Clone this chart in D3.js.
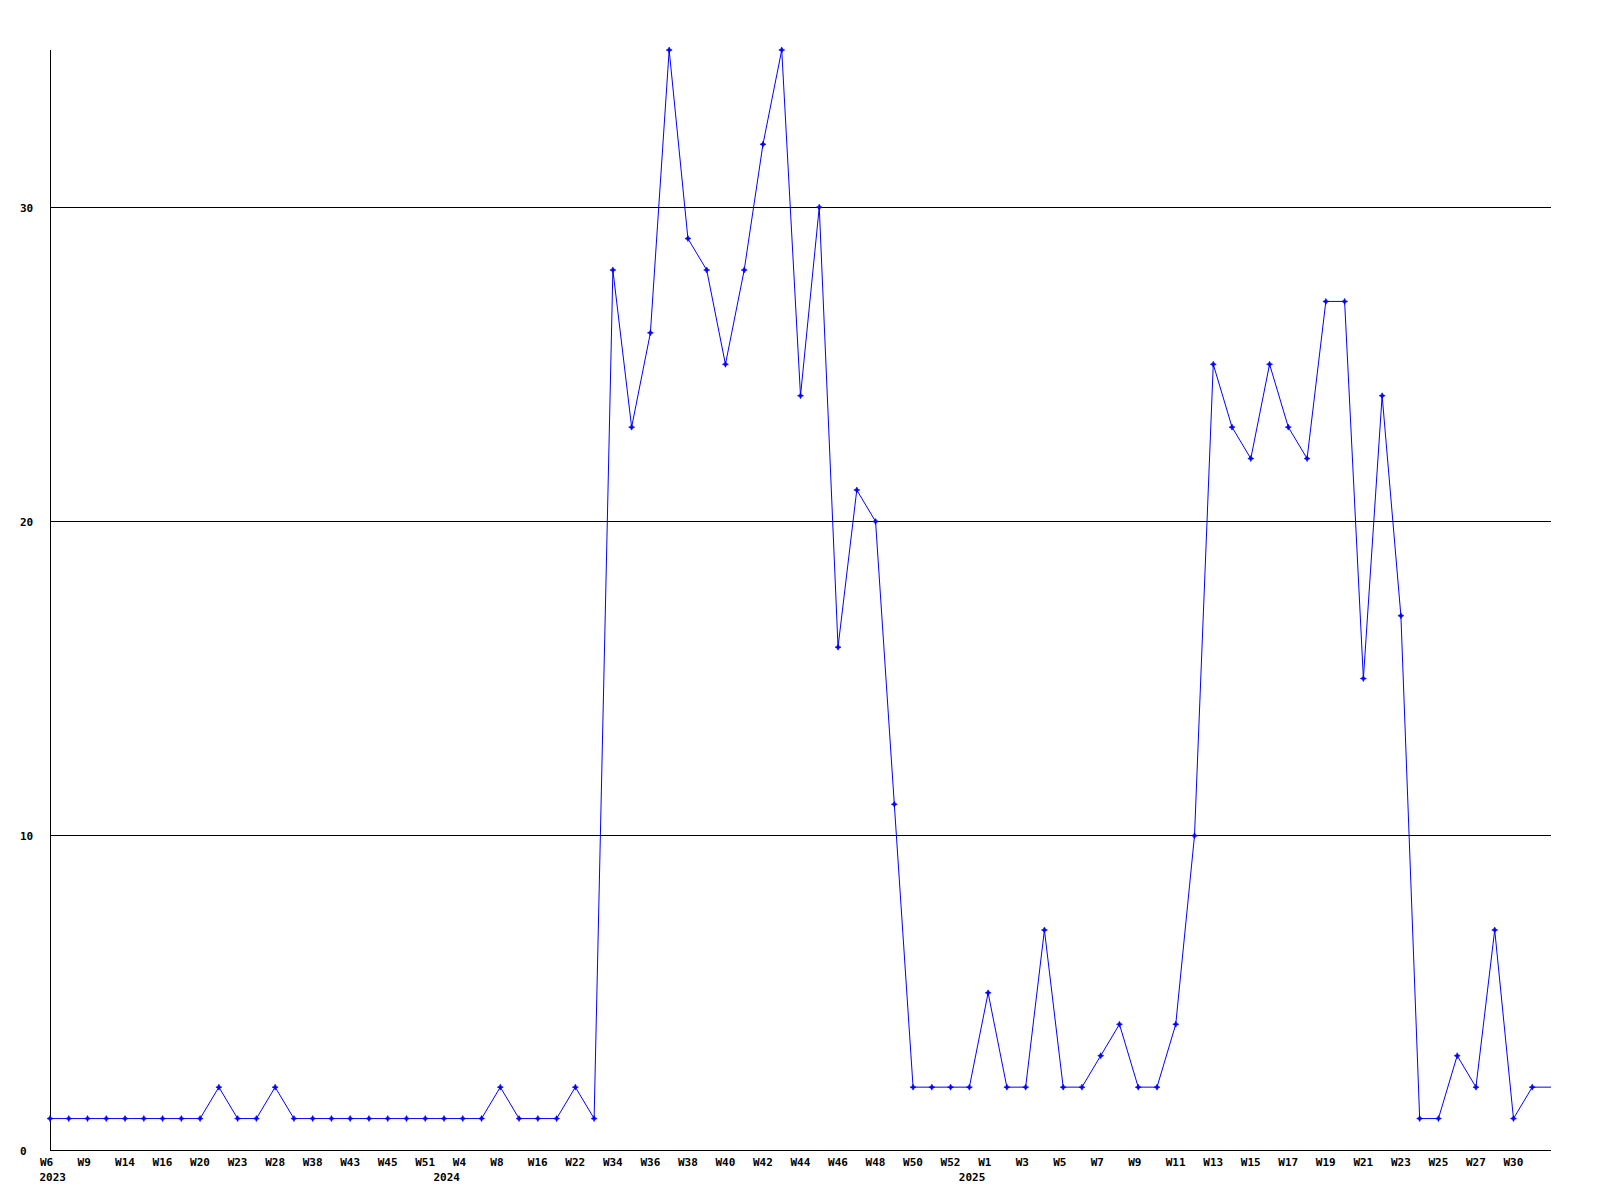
<!DOCTYPE html>
<html><head><meta charset="utf-8">
<script src="https://cdn.jsdelivr.net/npm/d3@7"></script>
<style>
body{margin:0;background:#fff}
svg{display:block}
text{font-family:"DejaVu Sans Mono",monospace;font-weight:bold;font-size:11px;fill:#000}
</style>
</head><body>
<svg id="c" width="1600" height="1200"></svg>
<script>
// ---- data ----
const weeks = ["W6","W7","W9","W12","W14","W15","W16","W18","W20","W21",
  "W23","W25","W28","W33","W38","W41","W43","W44","W45","W48",
  "W51","W1","W4","W6","W8","W12","W16","W19","W22","W28",
  "W34","W35","W36","W37","W38","W39","W40","W41","W42","W43",
  "W44","W45","W46","W47","W48","W49","W50","W51","W52","W0",
  "W1","W2","W3","W4","W5","W6","W7","W8","W9","W10",
  "W11","W12","W13","W14","W15","W16","W17","W18","W19","W20",
  "W21","W22","W23","W24","W25","W26","W27","W28","W30","W31","W32"];
const years = [
  2023,2023,2023,2023,2023,2023,2023,2023,2023,2023,
  2023,2023,2023,2023,2023,2023,2023,2023,2023,2023,
  2023,2024,2024,2024,2024,2024,2024,2024,2024,2024,
  2024,2024,2024,2024,2024,2024,2024,2024,2024,2024,
  2024,2024,2024,2024,2024,2024,2024,2024,2024,2025,
  2025,2025,2025,2025,2025,2025,2025,2025,2025,2025,
  2025,2025,2025,2025,2025,2025,2025,2025,2025,2025,
  2025,2025,2025,2025,2025,2025,2025,2025,2025,2025,2025];
const values = [1,1,1,1,1,1,1,1,1,2,
  1,1,2,1,1,1,1,1,1,1,
  1,1,1,1,2,1,1,1,2,1,
  28,23,26,35,29,28,25,28,32,35,
  24,30,16,21,20,11,2,2,2,2,
  5,2,2,7,2,2,3,4,2,2,
  4,10,25,23,22,25,23,22,27,27,
  15,24,17,1,1,3,2,7,1,2,2];
const yTicks = [0,10,20,30];
const yMax = 35;

// ---- layout ----
const L = 50, R = 1551, T = 50, B = 1150;
const svg = d3.select("#c");
const x = d3.scaleLinear().domain([0, values.length - 1]).range([L, R]);
const y = d3.scaleLinear().domain([0, yMax]).range([B, T]);
const px = v => Math.floor(v) + 0.5;

// gridlines
svg.append("g").selectAll("line").data(yTicks.filter(d => d > 0)).join("line")
  .attr("x1", L).attr("x2", R)
  .attr("y1", d => px(y(d))).attr("y2", d => px(y(d)))
  .attr("stroke", "#000").attr("stroke-width", 1).attr("shape-rendering", "crispEdges");

// axes lines
svg.append("line").attr("x1", px(L)).attr("x2", px(L)).attr("y1", T).attr("y2", B + 1)
  .attr("stroke", "#000").attr("shape-rendering", "crispEdges");
svg.append("line").attr("x1", L).attr("x2", R).attr("y1", px(B)).attr("y2", px(B))
  .attr("stroke", "#000").attr("shape-rendering", "crispEdges");

// y tick labels (left-aligned at x=20)
const yAxis = svg.append("g").attr("transform", `translate(${L},0)`)
  .call(d3.axisLeft(y).tickValues(yTicks).tickSize(0).tickFormat(d3.format("d")));
yAxis.select(".domain").remove();
yAxis.selectAll("text").attr("x", 20 - L).attr("dy", null).attr("y", 4)
  .attr("text-anchor", "start").style("font-family", null).style("font-size", null)
  .attr("font-family", null).attr("font-size", null);

// x tick labels (every other point)
const tickIdx = d3.range(0, values.length - 1, 2);
const xAxis = svg.append("g").attr("transform", `translate(0,${B})`)
  .call(d3.axisBottom(x).tickValues(tickIdx).tickSize(0).tickFormat(i => weeks[i]));
xAxis.select(".domain").remove();
xAxis.attr("font-family", null).attr("font-size", null);
xAxis.selectAll("text").attr("text-anchor", "start").attr("x", -10.5)
  .attr("y", 16).attr("dy", null);

// year labels at first point of each year
const yearIdx = years.map((yr, i) => i).filter(i => i === 0 || years[i] !== years[i - 1]);
svg.append("g").selectAll("text").data(yearIdx).join("text")
  .attr("x", i => x(i) - 10.5).attr("y", B + 31)
  .text(i => years[i]);

// line
svg.append("path").datum(values)
  .attr("fill", "none").attr("stroke", "#0000ff").attr("stroke-width", 1)
  .attr("d", d3.line().x((d, i) => x(i)).y(d => y(d)));

// markers (last point unmarked, at the plot edge)
const marker = "M0,-3L1,-1L3,0L1,1L0,3L-1,1L-3,0L-1,-1Z";
svg.append("g").selectAll("path").data(values.slice(0, values.length - 1)).join("path")
  .attr("d", marker)
  .attr("transform", (d, i) => `translate(${x(i)},${y(d)})`)
  .attr("fill", "#0000ff").attr("stroke", "#0000ff").attr("stroke-width", 0.6);
</script>
</body></html>
